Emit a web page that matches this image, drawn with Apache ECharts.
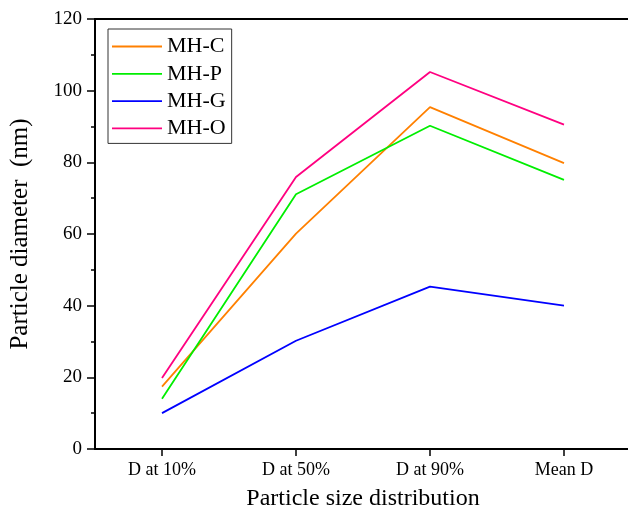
<!DOCTYPE html>
<html>
<head>
<meta charset="utf-8">
<script src="https://cdn.jsdelivr.net/npm/echarts@6/dist/echarts.min.js"></script>
<style>
  html, body { margin: 0; padding: 0; background: #fff; }
  #chart { width: 628px; height: 511px; }
</style>
</head>
<body>
<div id="chart"></div>
<script>
// data
const categories = ['D at 10%', 'D at 50%', 'D at 90%', 'Mean D'];
const seriesNames = ['MH-C', 'MH-P', 'MH-G', 'MH-O'];
const mhC = [17.4, 60.1, 95.4, 79.8];
const mhP = [14.0, 71.1, 90.2, 75.1];
const mhG = [10.0, 30.2, 45.3, 40.0];
const mhO = [19.8, 75.9, 105.2, 90.5];
const yTicks = [0, 20, 40, 60, 80, 100, 120];

const colors = ['#ff8000', '#00ee00', '#0000ff', '#ff0080'];
const values = [mhC, mhP, mhG, mhO];

const font = '"Liberation Serif", "DejaVu Serif", serif';

let chart = echarts.init(document.getElementById('chart'));
chart.setOption({
    animation: false,
    textStyle: {fontFamily: font, color: '#000'},
    grid: {
        left: 95, top: 19, width: 536, height: 430,
        show: true, borderColor: '#000', borderWidth: 2,
        containLabel: false,
        outerBoundsMode: 'none'
    },
    legend: {
        orient: 'vertical',
        left: 108, top: 29,
        padding: [6.5, 6, 4, 4],
        itemWidth: 50, itemHeight: 20, itemGap: 5.3,
        borderColor: '#333', borderWidth: 1,
        icon: 'path://M0,0 L50,0 L50,1.8 L0,1.8 Z',
        textStyle: {fontFamily: font, fontSize: 22, color: '#000'},
        data: seriesNames
    },
    xAxis: {
        type: 'category',
        data: categories,
        boundaryGap: true,
        name: 'Particle size distribution',
        nameLocation: 'middle',
        nameGap: 38,
        nameTextStyle: {fontFamily: font, fontSize: 24, color: '#000'},
        axisLine: {lineStyle: {color: '#000', width: 2}},
        axisTick: {show: true, alignWithLabel: true, length: 7, lineStyle: {color: '#000', width: 1.5}},
        axisLabel: {fontFamily: font, fontSize: 18, color: '#000', margin: 12}
    },
    yAxis: {
        type: 'value',
        min: yTicks[0], max: yTicks[yTicks.length - 1], interval: 20,
        name: 'Particle diameter  (nm)',
        nameLocation: 'middle',
        nameGap: 62,
        nameTextStyle: {fontFamily: font, fontSize: 25, color: '#000'},
        splitLine: {show: false},
        axisLine: {show: true, lineStyle: {color: '#000', width: 2}},
        axisTick: {show: true, length: 8, lineStyle: {color: '#000', width: 1.5}},
        minorTick: {show: true, splitNumber: 2, length: 4, lineStyle: {color: '#000', width: 1.5}},
        axisLabel: {fontFamily: font, fontSize: 19, color: '#000', margin: 13}
    },
    series: seriesNames.map((name, i) => ({
        name: name,
        type: 'line',
        data: values[i],
        color: colors[i],
        symbol: 'none',
        lineStyle: {width: 1.8, color: colors[i]}
    }))
});
</script>
</body>
</html>
